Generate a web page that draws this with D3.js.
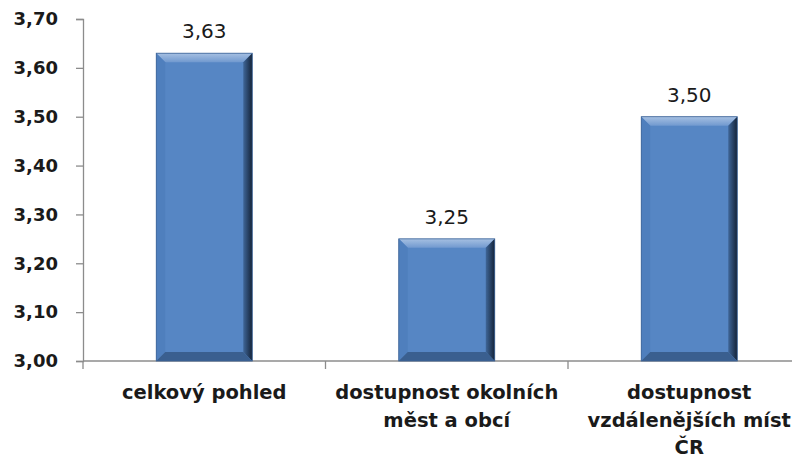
<!DOCTYPE html>
<html>
<head>
<meta charset="utf-8">
<script src="https://cdn.jsdelivr.net/npm/d3@7"></script>
<style>
  body { margin: 0; background: #fff; }
  svg { display: block; }
</style>
</head>
<body>
<svg id="chart" width="792" height="459"></svg>
<script>
var categories = [
    ["celkový pohled"],
    ["dostupnost okolních", "měst a obcí"],
    ["dostupnost", "vzdálenějších míst", "ČR"]
];
var values = [3.63, 3.25, 3.50];
var yTicks = [3.00, 3.10, 3.20, 3.30, 3.40, 3.50, 3.60, 3.70];

var config = {
    width: 792,
    height: 459,
    left: 83,
    bandWidth: 242.5,
    top: 19,
    bottom: 361,
    barWidth: 96,
    bevel: 9
};

var fmt = (v) => v.toFixed(2).replace(".", ",");

var svg = d3.select("#chart");

var x = d3.scaleBand()
    .domain(d3.range(categories.length))
    .range([config.left, config.left + config.bandWidth * categories.length])
    .paddingInner(0).paddingOuter(0);

var y = d3.scaleLinear()
    .domain([3.0, 3.7])
    .range([config.bottom, config.top]);

// y axis
var yAxis = svg.append("g")
    .attr("transform", `translate(${config.left},0)`)
    .call(d3.axisLeft(y).tickValues(yTicks).tickFormat(fmt).tickSize(7).tickPadding(18));
yAxis.select(".domain").attr("stroke", "#8c8c8c").attr("stroke-width", 1.3);
yAxis.selectAll(".tick line").attr("stroke", "#8c8c8c").attr("stroke-width", 1.3);
yAxis.selectAll(".tick text")
    .attr("fill", "#1a1a1a")
    .style("font-family", "'DejaVu Sans', Verdana, sans-serif")
    .style("font-weight", "bold")
    .style("font-size", "18px");

// x axis line + ticks
var xg = svg.append("g");
xg.append("line")
    .attr("x1", config.left).attr("x2", config.width)
    .attr("y1", y(3.0)).attr("y2", y(3.0))
    .attr("stroke", "#8c8c8c").attr("stroke-width", 1.3);
xg.selectAll(".xtick")
    .data(d3.range(categories.length + 1))
    .join("line")
    .attr("class", "xtick")
    .attr("x1", (d) => config.left + d * x.bandwidth())
    .attr("x2", (d) => config.left + d * x.bandwidth())
    .attr("y1", y(3.0)).attr("y2", y(3.0) + 8)
    .attr("stroke", "#8c8c8c").attr("stroke-width", 1.3);

// bars with bevel
var defs = svg.append("defs");
var grad = defs.append("linearGradient").attr("id", "rightEdge").attr("x1", 0).attr("x2", 1).attr("y1", 0).attr("y2", 0);
grad.append("stop").attr("offset", "0%").attr("stop-color", "#3f6698");
grad.append("stop").attr("offset", "100%").attr("stop-color", "#142338");
var gradTop = defs.append("linearGradient").attr("id", "topEdge").attr("x1", 0).attr("x2", 0).attr("y1", 0).attr("y2", 1);
gradTop.append("stop").attr("offset", "0%").attr("stop-color", "#a6c0e2");
gradTop.append("stop").attr("offset", "100%").attr("stop-color", "#7199cf");

var bars = svg.selectAll(".bar")
    .data(values)
    .join("g")
    .attr("class", "bar");

bars.each(function (v, i) {
    var g = d3.select(this);
    var x0 = x(i) + (x.bandwidth() - config.barWidth) / 2;
    var x1 = x0 + config.barWidth;
    var y0 = y(v);
    var y1 = y(3.0);
    var b = config.bevel;
    g.append("rect")
        .attr("x", x0).attr("y", y0)
        .attr("width", config.barWidth).attr("height", y1 - y0)
        .attr("fill", "#5686c4");
    // top
    g.append("polygon")
        .attr("points", [[x0, y0], [x1, y0], [x1 - b, y0 + b], [x0 + b, y0 + b]].join(" "))
        .attr("fill", "url(#topEdge)");
    // left
    g.append("polygon")
        .attr("points", [[x0, y0], [x0 + b, y0 + b], [x0 + b, y1 - b], [x0, y1]].join(" "))
        .attr("fill", "#4f7fbd");
    // right
    g.append("polygon")
        .attr("points", [[x1, y0], [x1, y1], [x1 - b, y1 - b], [x1 - b, y0 + b]].join(" "))
        .attr("fill", "url(#rightEdge)");
    // bottom
    g.append("polygon")
        .attr("points", [[x0, y1], [x1, y1], [x1 - b, y1 - b], [x0 + b, y1 - b]].join(" "))
        .attr("fill", "#3a5f8f");
    g.append("rect")
        .attr("x", x0).attr("y", y0)
        .attr("width", config.barWidth).attr("height", y1 - y0)
        .attr("fill", "none").attr("stroke", "#3d6396").attr("stroke-width", 0.8);
});

// value labels
svg.selectAll(".val")
    .data(values)
    .join("text")
    .attr("class", "val")
    .attr("x", (d, i) => x(i) + x.bandwidth() / 2)
    .attr("y", (d) => y(d) - 15)
    .attr("text-anchor", "middle")
    .attr("fill", "#1a1a1a")
    .style("font-family", "'DejaVu Sans', Verdana, sans-serif")
    .style("font-size", "20px")
    .text(fmt);

// category labels
var cat = svg.selectAll(".cat")
    .data(categories)
    .join("text")
    .attr("class", "cat")
    .attr("text-anchor", "middle")
    .attr("fill", "#1a1a1a")
    .style("font-family", "'DejaVu Sans', Verdana, sans-serif")
    .style("font-weight", "bold")
    .style("font-size", "19.5px");
cat.selectAll("tspan")
    .data((d, i) => d.map((t) => ({ t: t, i: i })))
    .join("tspan")
    .attr("x", (d) => x(d.i) + x.bandwidth() / 2)
    .attr("y", (d, j) => 399 + j * 27.5)
    .text((d) => d.t);
</script>
</body>
</html>
